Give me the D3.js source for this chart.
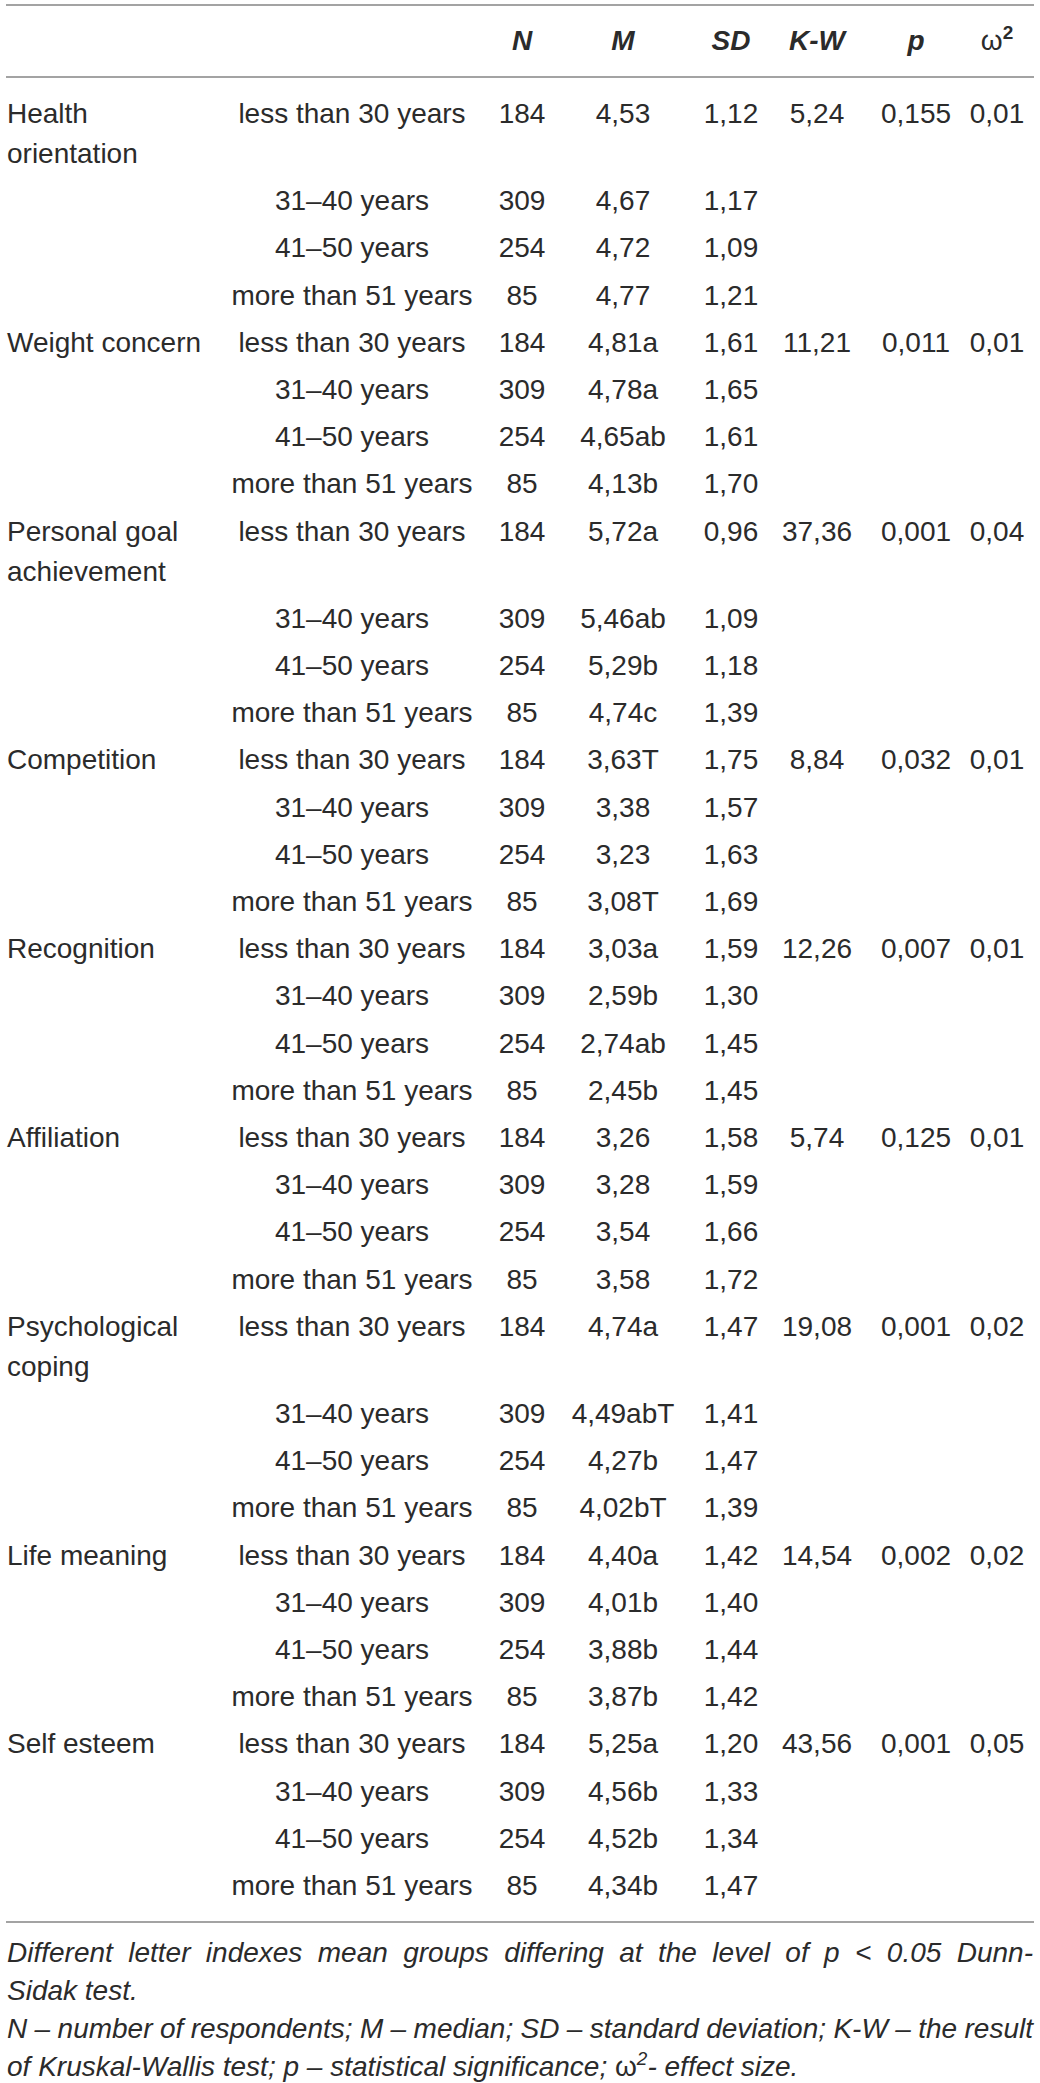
<!DOCTYPE html>
<html>
<head>
<meta charset="utf-8">
<script src="https://cdn.jsdelivr.net/npm/d3@7"></script>
<style>
  body { margin: 0; background: #fff; }
  svg { display: block; }
</style>
</head>
<body>
<div id="kw-table"></div>
<script>
// table values
const factors = [
  'Health orientation', 'Weight concern', 'Personal goal achievement',
  'Competition', 'Recognition', 'Affiliation',
  'Psychological coping', 'Life meaning', 'Self esteem',
];
const ageGroups = ['less than 30 years', '31–40 years', '41–50 years', 'more than 51 years'];
const nValues = [184, 309, 254, 85];

const medians = [
  [4.53, 4.67, 4.72, 4.77],
  [4.81, 4.78, 4.65, 4.13],
  [5.72, 5.46, 5.29, 4.74],
  [3.63, 3.38, 3.23, 3.08],
  [3.03, 2.59, 2.74, 2.45],
  [3.26, 3.28, 3.54, 3.58],
  [4.74, 4.49, 4.27, 4.02],
  [4.40, 4.01, 3.88, 3.87],
  [5.25, 4.56, 4.52, 4.34],
];
const medianIndexes = [
  ['', '', '', ''],
  ['a', 'a', 'ab', 'b'],
  ['a', 'ab', 'b', 'c'],
  ['T', '', '', 'T'],
  ['a', 'b', 'ab', 'b'],
  ['', '', '', ''],
  ['a', 'abT', 'b', 'bT'],
  ['a', 'b', 'b', 'b'],
  ['a', 'b', 'b', 'b'],
];
const sdValues = [
  [1.12, 1.17, 1.09, 1.21],
  [1.61, 1.65, 1.61, 1.70],
  [0.96, 1.09, 1.18, 1.39],
  [1.75, 1.57, 1.63, 1.69],
  [1.59, 1.30, 1.45, 1.45],
  [1.58, 1.59, 1.66, 1.72],
  [1.47, 1.41, 1.47, 1.39],
  [1.42, 1.40, 1.44, 1.42],
  [1.20, 1.33, 1.34, 1.47],
];
const kwValues = [5.24, 11.21, 37.36, 8.84, 12.26, 5.74, 19.08, 14.54, 43.56];
const pValues = [0.155, 0.011, 0.001, 0.032, 0.007, 0.125, 0.001, 0.002, 0.001];
const omegaValues = [0.01, 0.01, 0.04, 0.01, 0.01, 0.01, 0.02, 0.02, 0.05];

const headers = ['N', 'M', 'SD', 'K-W', 'p'];

const notes = [
  { text: 'Different letter indexes mean groups differing at the level of p < 0.05 Dunn-', justify: true },
  { text: 'Sidak test.', justify: false },
  { text: 'N – number of respondents; M – median; SD – standard deviation; K-W – the result', justify: true },
  { text: 'of Kruskal-Wallis test; p – statistical significance; ω^2- effect size.', justify: false },
];

const size = { width: 1040, height: 2083 };
const margin = { left: 7, right: 7 };
const fontSize = 28;
const lineH = 40;
const rowH = 47.2;
const ink = '#2b2b2b';
const rule = '#a3a3a3';
const font = "'Liberation Sans', Arial, Helvetica, sans-serif";

// decimal comma, as in the source
const comma = (f) => (d) => d3.format(f)(d).replace('.', ',');
const fmt2 = comma('.2f');
const fmt3 = comma('.3f');

const svg = d3.select('#kw-table')
  .append('svg')
  .attr('width', size.width)
  .attr('height', size.height)
  .style('font-family', font)
  .style('font-size', `${fontSize}px`)
  .attr('fill', ink);

const col = d3.scaleOrdinal()
  .domain(['age', 'N', 'M', 'SD', 'K-W', 'p', 'w'])
  .range([352, 522, 623, 731, 817, 916, 997]);

// wrap factor names into the first column
const measure = svg.append('text').attr('visibility', 'hidden');
const textWidth = (s) => measure.text(s).node().getComputedTextLength();
const wrap = (s, maxW) => {
  const lines = [];
  let cur = '';
  s.split(' ').forEach((w) => {
    const next = cur ? `${cur} ${w}` : w;
    if (cur && textWidth(next) > maxW) {
      lines.push(cur);
      cur = w;
    } else cur = next;
  });
  lines.push(cur);
  return lines;
};
const factorLines = factors.map((f) => wrap(f, 205));
measure.remove();

// rows
const rows = [];
let yTop = 89.4;
factors.forEach((f, fi) => {
  ageGroups.forEach((a, ai) => {
    const nLines = ai === 0 ? factorLines[fi].length : 1;
    rows.push({ fi, ai, cy: yTop + rowH / 2 });
    yTop += rowH + (nLines - 1) * lineH;
  });
});
const base = (cy) => cy + 10;

// rules
const lineY = [5, 77, 1922];
svg.selectAll('line.rule')
  .data(lineY)
  .join('line')
  .attr('class', 'rule')
  .attr('x1', margin.left - 1)
  .attr('x2', size.width - margin.right + 1)
  .attr('y1', (d) => d)
  .attr('y2', (d) => d)
  .attr('stroke', rule)
  .attr('stroke-width', 2);

// header
svg.append('g')
  .selectAll('text')
  .data(headers)
  .join('text')
  .attr('x', (d) => col(d))
  .attr('y', base(40))
  .attr('text-anchor', 'middle')
  .attr('font-weight', 700)
  .attr('font-style', 'italic')
  .text((d) => d);

const omega = svg.append('text')
  .attr('x', col('w'))
  .attr('y', base(40))
  .attr('text-anchor', 'middle');
omega.append('tspan').text('ω');
omega.append('tspan')
  .attr('dy', -11)
  .attr('font-size', 19)
  .attr('font-weight', 700)
  .text('2');

// body
const body = svg.append('g');

body.selectAll('text.factor')
  .data(rows.filter((r) => r.ai === 0))
  .join('text')
  .attr('class', 'factor')
  .attr('x', margin.left)
  .attr('y', (d) => base(d.cy))
  .each(function (d) {
    d3.select(this)
      .selectAll('tspan')
      .data(factorLines[d.fi])
      .join('tspan')
      .attr('x', margin.left)
      .attr('dy', (t, i) => (i === 0 ? 0 : lineH))
      .text((t) => t);
  });

const cells = [
  { key: 'age', value: (r) => ageGroups[r.ai], all: true },
  { key: 'N', value: (r) => nValues[r.ai], all: true },
  { key: 'M', value: (r) => fmt2(medians[r.fi][r.ai]) + medianIndexes[r.fi][r.ai], all: true },
  { key: 'SD', value: (r) => fmt2(sdValues[r.fi][r.ai]), all: true },
  { key: 'K-W', value: (r) => fmt2(kwValues[r.fi]), all: false },
  { key: 'p', value: (r) => fmt3(pValues[r.fi]), all: false },
  { key: 'w', value: (r) => fmt2(omegaValues[r.fi]), all: false },
];

cells.forEach((c) => {
  body.append('g')
    .selectAll('text')
    .data(rows.filter((r) => c.all || r.ai === 0))
    .join('text')
    .attr('x', col(c.key))
    .attr('y', (d) => base(d.cy))
    .attr('text-anchor', 'middle')
    .text(c.value);
});

// footnotes, italic, first and third line justified to the table width
const notesG = svg.append('g').attr('font-style', 'italic');
const noteTop = 1962;
const noteStep = 38;
const fullW = size.width - margin.left - margin.right;

const appendWord = (sel, w) => {
  // ω^2 -> omega with superscript two
  const parts = w.split('^');
  sel.append('tspan').attr('font-style', parts.length > 1 ? 'normal' : null).text(parts[0]);
  if (parts.length > 1) {
    sel.append('tspan').attr('dy', -11).attr('font-size', 19).text(parts[1][0]);
    sel.append('tspan').attr('dy', 11).text(parts[1].slice(1));
  }
};

notes.forEach((n, i) => {
  const y = noteTop + i * noteStep;
  if (!n.justify) {
    const t = notesG.append('text').attr('x', margin.left).attr('y', y);
    n.text.split(' ').forEach((w, k) => appendWord(t, (k ? ' ' : '') + w));
    return;
  }
  const words = n.text.split(' ');
  const texts = notesG.append('g')
    .selectAll('text')
    .data(words)
    .join('text')
    .attr('y', y)
    .text((d) => d);
  const widths = texts.nodes().map((t) => t.getComputedTextLength());
  const gap = (fullW - d3.sum(widths)) / (words.length - 1);
  if (gap < 5) {
    texts.remove();
    notesG.append('text')
      .attr('x', margin.left)
      .attr('y', y)
      .attr('textLength', fullW)
      .attr('lengthAdjust', 'spacingAndGlyphs')
      .text(n.text);
    return;
  }
  let x = margin.left;
  texts.each(function (d, k) {
    d3.select(this).attr('x', x);
    x += widths[k] + gap;
  });
});
</script>
</body>
</html>
